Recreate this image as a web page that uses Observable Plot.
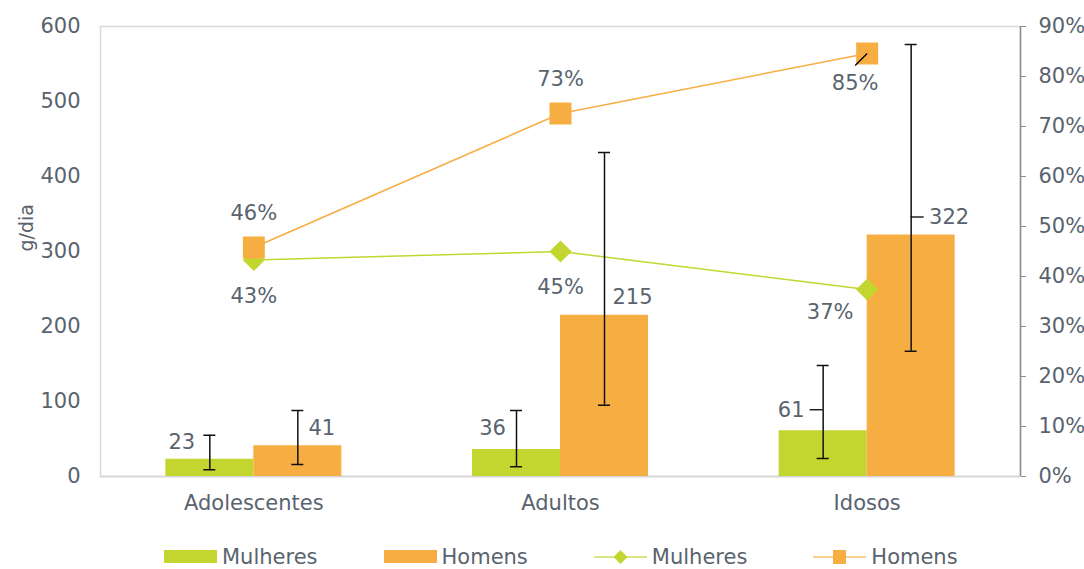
<!DOCTYPE html>
<html>
<head>
<meta charset="utf-8">
<script src="https://cdn.jsdelivr.net/npm/d3@7"></script>
<script src="https://cdn.jsdelivr.net/npm/@observablehq/plot@0.6"></script>
<style>
  html, body { margin: 0; padding: 0; background: #fff; }
  body { width: 1084px; height: 569px; overflow: hidden; font-family: "DejaVu Sans", sans-serif; }
  #legend { height: 25px; padding-top: 14px; display: flex; align-items: center; margin-left: 164px; gap: 66px; color: #59636e; font-size: 21px; }
  .item { display: flex; align-items: center; gap: 5px; }
  .sw { width: 53px; height: 13px; }
</style>
</head>
<body>
<div id="chart"></div>
<div id="legend"></div>
<script>
// ---- data ----
const categories = ["Adolescentes", "Adultos", "Idosos"];
const mulheresG = [23, 36, 61];
const homensG = [41, 215, 322];
const mulheresErrLo = [9, 13, 24];
const mulheresErrHi = [55, 88, 148];
const homensErrLo = [16, 95, 167];
const homensErrHi = [88, 432, 576];
const mulheresPct = [43.3, 45.0, 37.4];
const homensPct = [45.8, 72.6, 84.6];
const gTicks = [0, 100, 200, 300, 400, 500, 600];
const pctTicks = [0, 10, 20, 30, 40, 50, 60, 70, 80, 90];
const seriesNames = ["Mulheres", "Homens"];

// ---- style ----
const green = "#c3d62f";
const orange = "#f6ae42";
const textColor = "#59636e";
const fs = 21;
const yMax = 600, pMax = 90;
const toY = p => p * yMax / pMax;
const plotW = 1020 - 100;
const unit = plotW / categories.length; // px per category
const barW = 88 / unit;
const capW = 12 / unit;

// label offsets (px) for bar value labels and percent labels
const barLabelOff = {
  Mulheres: [[-28, -17], [-24, -21], [-32, -20]],
  Homens: [[24, -17], [28, -18], [38, -18]]
};
const pctLabelOff = {
  Mulheres: [[0, 36], [0, 36], [-37, 23]],
  Homens: [[0, -34], [0, -34], [-12, 30]]
};

const bars = categories.flatMap((c, i) => [
  {cat: c, i, s: "Mulheres", v: mulheresG[i], lo: mulheresErrLo[i], hi: mulheresErrHi[i], side: -1, off: barLabelOff.Mulheres[i]},
  {cat: c, i, s: "Homens", v: homensG[i], lo: homensErrLo[i], hi: homensErrHi[i], side: 1, off: barLabelOff.Homens[i]}
]);
bars.forEach(d => d.c = d.i + 0.5 + d.side * barW / 2);

const pts = categories.flatMap((c, i) => [
  {cat: c, i, s: "Mulheres", p: mulheresPct[i], off: pctLabelOff.Mulheres[i]},
  {cat: c, i, s: "Homens", p: homensPct[i], off: pctLabelOff.Homens[i]}
]);
const ptsM = pts.filter(d => d.s === "Mulheres");
const ptsH = pts.filter(d => d.s === "Homens");

const barLabels = bars.map(d => Plot.text([d], {
  x: "c", y: "v", text: d => String(d.v), dx: d.off[0], dy: d.off[1],
  fill: textColor, fontSize: fs
}));
const pctLabels = pts.map(d => Plot.text([d], {
  x: d => d.i + 0.5, y: d => toY(d.p), text: d => Math.round(d.p) + "%",
  dx: d.off[0], dy: d.off[1], fill: textColor, fontSize: fs
}));

// leader lines
const b61 = bars[4], b322 = bars[5], p85 = ptsH[2];
const leaders = [
  Plot.ruleY([b61], {y: "v", x1: d => d.c - 13 / unit, x2: "c", dy: -21, stroke: "#000", strokeWidth: 1.3}),
  Plot.ruleY([b322], {y: "v", x1: "c", x2: d => d.c + 13 / unit, dy: -18, stroke: "#000", strokeWidth: 1.3}),
  Plot.link([p85], {x1: d => d.i + 0.5 - 12 / unit, y1: d => toY(d.p) - 16, x2: d => d.i + 0.5, y2: d => toY(d.p), stroke: "#000", strokeWidth: 1.3})
];

const chart = Plot.plot({
  width: 1084,
  height: 530,
  marginTop: 26,
  marginBottom: 54,
  marginLeft: 100,
  marginRight: 64,
  style: {fontFamily: "DejaVu Sans, sans-serif", fontSize: fs + "px", color: textColor, background: "#fff"},
  x: {domain: [0, categories.length], axis: null},
  y: {domain: [0, yMax], axis: null},
  marks: [
    Plot.frame({stroke: "#d9d9d9", strokeWidth: 1.5}),
    Plot.ruleY([0], {stroke: "#d9d9d9", strokeWidth: 2}),
    Plot.rectY(bars, {x1: d => d.i + 0.5 + (d.side < 0 ? -barW : 0), x2: d => d.i + 0.5 + (d.side < 0 ? 0 : barW), y: "v",
      fill: d => d.s === "Mulheres" ? green : orange}),
    Plot.line(ptsM, {x: d => d.i + 0.5, y: d => toY(d.p), stroke: green, strokeWidth: 1.5}),
    Plot.line(ptsH, {x: d => d.i + 0.5, y: d => toY(d.p), stroke: orange, strokeWidth: 1.5}),
    Plot.dot(ptsM, {x: d => d.i + 0.5, y: d => toY(d.p), symbol: "diamond2", r: 10, fill: green, stroke: "none"}),
    Plot.dot(ptsH, {x: d => d.i + 0.5, y: d => toY(d.p), symbol: "square", r: 12.4, fill: orange, stroke: "none"}),
    Plot.ruleX(bars, {x: "c", y1: "lo", y2: "hi", stroke: "#111", strokeWidth: 1.5}),
    Plot.ruleY(bars, {y: "lo", x1: d => d.c - capW / 2, x2: d => d.c + capW / 2, stroke: "#111", strokeWidth: 1.5}),
    Plot.ruleY(bars, {y: "hi", x1: d => d.c - capW / 2, x2: d => d.c + capW / 2, stroke: "#111", strokeWidth: 1.5}),
    ...leaders,
    ...barLabels,
    ...pctLabels,
    Plot.ruleX([categories.length], {stroke: "#8c8c8c", strokeWidth: 1.5}),
    Plot.axisY({anchor: "left", ticks: gTicks, tickSize: 0, tickPadding: 20, label: null, fill: textColor, fontSize: fs}),
    Plot.axisY({anchor: "right", ticks: pctTicks.map(toY), tickFormat: v => Math.round(v * pMax / yMax) + "%",
      tickSize: 5, tickPadding: 13, label: null, stroke: "#8c8c8c", fill: textColor, fontSize: fs}),
    Plot.axisX({anchor: "bottom", ticks: categories.map((c, i) => i + 0.5), tickFormat: v => categories[Math.floor(v)],
      tickSize: 0, tickPadding: 19, label: null, fill: textColor, fontSize: fs}),
    Plot.text(["g/dia"], {frameAnchor: "left", dx: -74, rotate: -90, fill: textColor, fontSize: 19})
  ]
});
document.getElementById("chart").appendChild(chart);

// legend
const legend = document.getElementById("legend");
const items = [
  {label: seriesNames[0], html: `<div class="sw" style="background:${green}"></div>`},
  {label: seriesNames[1], html: `<div class="sw" style="background:${orange}"></div>`},
  {label: seriesNames[0], html: `<svg width="53" height="16"><line x1="0" x2="53" y1="8" y2="8" stroke="${green}" stroke-opacity="0.6" stroke-width="2"/><path d="M26.5,1 L33.5,8 L26.5,15 L19.5,8 Z" fill="${green}"/></svg>`},
  {label: seriesNames[1], html: `<svg width="53" height="16"><line x1="0" x2="53" y1="8" y2="8" stroke="${orange}" stroke-opacity="0.6" stroke-width="2"/><rect x="20" y="1" width="13" height="14" fill="${orange}"/></svg>`}
];
for (const it of items) {
  const el = document.createElement("div");
  el.className = "item";
  el.innerHTML = it.html + `<span>${it.label}</span>`;
  legend.appendChild(el);
}
</script>
</body>
</html>
